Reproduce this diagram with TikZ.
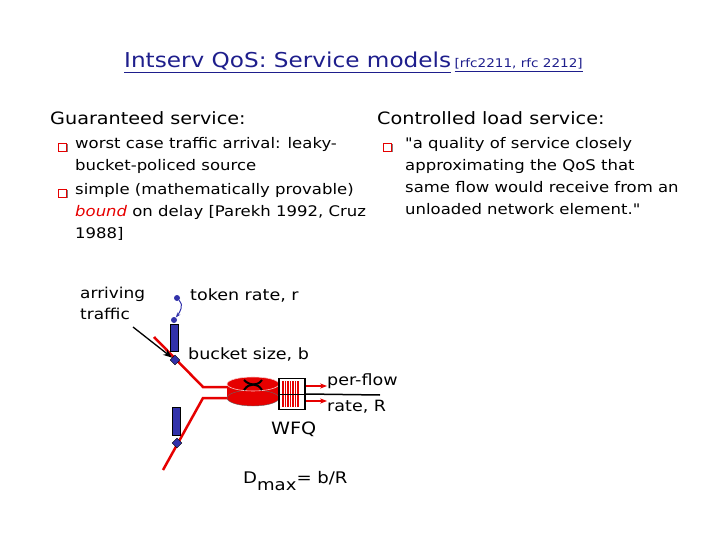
\documentclass[tikz,border=0pt]{standalone}
\usepackage{fontspec}
\setmainfont{DejaVu Sans}[Ligatures=TeXOff,FakeStretch=1.13]
\usetikzlibrary{arrows.meta}
\definecolor{ttl}{RGB}{30,30,140}
\definecolor{rr}{RGB}{230,0,0}
\definecolor{bb}{RGB}{50,50,170}
\begin{document}
\begin{tikzpicture}[x=1pt,y=-1pt,
  txt/.style={inner sep=0pt,anchor=west,font=\fontsize{14.6}{22}\selectfont},
  head/.style={inner sep=0pt,anchor=west,font=\fontsize{17}{20}\selectfont},
  lbl/.style={inner sep=0pt,anchor=west,font=\fontsize{15.5}{18}\selectfont},
  bul/.style={draw=rr,fill=white,minimum size=8pt,inner sep=0pt,line width=0.8pt},
  shad/.style={fill=black!50,minimum size=8pt,inner sep=0pt},
  red line/.style={draw=rr,line width=2.5pt},
  bar/.style={draw=black,fill=bb,line width=0.4pt},
  dia/.style={draw=black,fill=bb,line width=0.4pt}]
\useasboundingbox (0,0) rectangle (720,540);
% title
\node[inner sep=0pt,anchor=base west,text=ttl,font=\fontsize{20.5}{24}\selectfont] (title) at (124,68) {\underline{Intserv QoS: Service models}\,\fontsize{12}{14}\selectfont\underline{[rfc2211, rfc 2212]}};
% headings
\node[head] (g) at (50,118) {Guaranteed service:};
\node[head] (c) at (377,118) {Controlled load service:};
% bullets
\node[shad] (s1) at (63.5,148.5) {};
\node[bul] (b1) at (62,147) {};
\node[shad] (s2) at (63.5,194.5) {};
\node[bul] (b2) at (62,193) {};
\node[shad] (s3) at (388.5,148.5) {};
\node[bul] (b3) at (387,147) {};
\node[txt,anchor=north west,align=left] (t1) at (75,137) {worst case traffic arrival: leaky-\\bucket-policed source};
\node[txt,anchor=north west,align=left] (t2) at (75,183) {simple (mathematically provable)\\{\color{rr}\itshape bound} on delay [Parekh 1992, Cruz\\1988]};
\node[txt,anchor=north west,align=left] (t3) at (405,137) {"a quality of service closely\\approximating the QoS that\\same flow would receive from an\\unloaded network element."};
% labels
\node[lbl,anchor=north west,align=left,font=\fontsize{15}{20.5}\selectfont] (arr) at (80,287) {arriving\\traffic};
\node[lbl] (tok) at (190,296) {token rate, r};
\node[lbl] (bkt) at (188,355) {bucket size, b};
\node[lbl] (pf) at (327,381) {per-flow};
\node[lbl] (rt) at (327,407) {rate, R};
\node[lbl,font=\fontsize{17}{18}\selectfont] (wfq) at (271,429) {WFQ};
\node[lbl,font=\fontsize{16}{18}\selectfont] (dm) at (243,481) {D\raisebox{-7pt}{max}= b/R};
% red lines
\coordinate (l0) at (154,337);
\coordinate (l1) at (203,387);
\coordinate (l2) at (232,387);
\coordinate (m0) at (163,470);
\coordinate (m1) at (203,398);
\coordinate (m2) at (232,398);
\draw[red line] (l0) -- (l1) -- (l2);
\draw[red line] (m0) -- (m1) -- (m2);
% buckets
\node[bar,minimum width=8pt,minimum height=27pt,inner sep=0pt] (bar1) at (174,338) {};
\node[bar,minimum width=8pt,minimum height=28pt,inner sep=0pt] (bar2) at (176,421) {};
\node[dia,minimum size=7pt,inner sep=0pt,rotate=45] (d1) at (175,360) {};
\node[dia,minimum size=7pt,inner sep=0pt,rotate=45] (d2) at (177,443) {};
% tokens
\node[circle,fill=bb,minimum size=6pt,inner sep=0pt] (tk) at (177,298) {};
\node[circle,fill=bb,minimum size=6pt,inner sep=0pt] (tk2) at (174,320) {};
\draw[bb,line width=1pt,-{Stealth[length=5pt]}] (tk) .. controls (184,305) and (180,312) .. (tk2);
% arriving arrow
\coordinate (aa) at (133,327);
\draw[black,line width=1.3pt,-{Stealth[length=9pt]}] (aa) -- (d1);
% router
\fill[rr] (227,384) rectangle (279,398);
\fill[rr] (253,398) ellipse (26pt and 8pt);
\draw[black!60,line width=0.4pt] (253,398) ellipse (26pt and 8pt);
\fill[rr] (253,384) ellipse (26pt and 7pt);
\draw[white!80!rr,line width=0.6pt] (253,384) ellipse (26pt and 7pt);
\draw[black,line width=2pt] (244,380) .. controls (252,388) and (256,381) .. (262,390);
\draw[black,line width=2pt] (244,390) .. controls (250,381) and (256,388) .. (262,380);
\node[inner sep=0pt] (router) at (253,391) {};
% queue
\node[draw=black,line width=1.5pt,fill=white,minimum width=26pt,minimum height=31pt,inner sep=0pt] (q) at (292,394) {};
\foreach \xx in {283,285.5,288,290.5,293,295.5,298}{\draw[rr,line width=1.3pt] (\xx,381) -- (\xx,407);}
\draw[black,line width=1pt] (279,394) -- (305,394);
% output
\coordinate (o1) at (327,386);
\coordinate (o2) at (327,401);
\coordinate (ol) at (380,395);
\draw[black,line width=1.5pt] (q.east) -- (ol);
\draw[rr,line width=2pt,-{Stealth[length=7pt]}] (q.east |- o1) -- (o1);
\draw[rr,line width=2pt,-{Stealth[length=7pt]}] (q.east |- o2) -- (o2);
\end{tikzpicture}
\end{document}
